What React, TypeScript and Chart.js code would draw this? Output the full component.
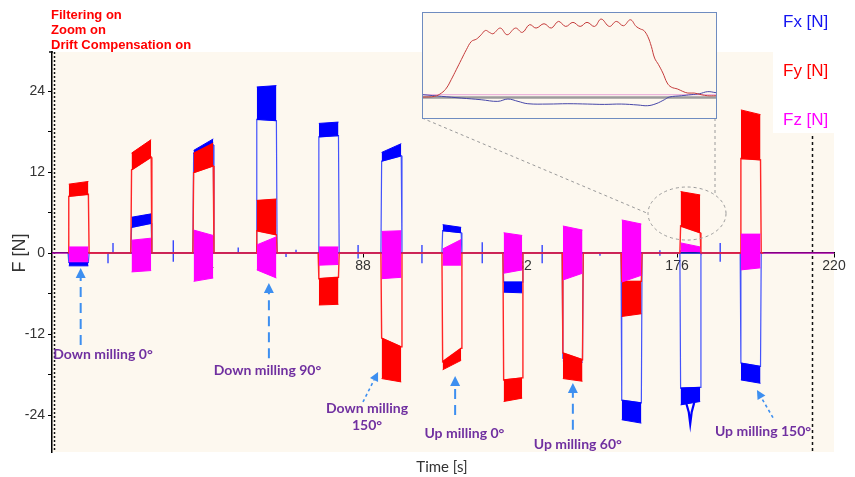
import React, { useEffect, useRef } from 'react';
import { Chart, registerables } from 'chart.js';
Chart.register(...registerables);

// ---------- data ----------
const seriesNames = ['Fx [N]', 'Fy [N]', 'Fz [N]'];
const xTickValues = [44, 88, 132, 176, 220];
const yTickValues = [-24, -18, -12, -6, 0, 6, 12, 18, 24];
const yLabelValues = [-24, -12, 0, 12, 24];

// milling passes (time, s)
const pulseStart = [5.3, 22.9, 40.3, 58.0, 75.4, 93.0, 110.1, 127.2, 143.8, 160.3, 176.8, 193.7];
const pulseEnd = [11.2, 28.8, 46.2, 63.9, 81.3, 98.9, 115.7, 132.8, 149.7, 166.2, 182.7, 199.6];

// Fx band (N): high/low edge of the noisy band at start/end of each pass
const fxHighStart = [-1.4, 5.3, 15.2, 24.6, 19.2, 14.9, 4.2, -4.3, -15.6, -21.8, -20.0, -16.3];
const fxHighEnd = [-1.4, 5.8, 16.9, 24.8, 19.4, 16.2, 3.8, -4.3, -15.8, -22.2, -19.9, -16.8];
const fxLowStart = [-1.9, 3.8, 14.8, 19.8, 17.2, 13.6, 3.3, -5.8, -16.0, -24.7, -22.5, -18.8];
const fxLowEnd = [-1.9, 4.4, 16.0, 19.6, 17.4, 14.4, 3.0, -5.9, -16.2, -25.2, -22.0, -19.3];

// Fy band (N)
const fyHighStart = [10.2, 14.8, 14.8, 7.8, -3.8, -12.6, -16.1, -18.8, -14.8, -4.2, 9.1, 21.2];
const fyHighEnd = [10.6, 16.8, 16.3, 8.0, -3.6, -13.9, -14.1, -18.5, -15.8, -4.2, 8.6, 20.5];
const fyLowStart = [8.4, 12.3, 11.9, 3.3, -7.7, -18.6, -17.3, -22.0, -18.6, -9.4, 4.0, 14.0];
const fyLowEnd = [8.7, 14.2, 12.9, 2.7, -7.6, -19.1, -15.9, -21.5, -19.0, -9.0, 3.0, 13.8];

// Fz band (N)
const fzHighStart = [0.9, 1.9, 3.4, 1.2, 0.9, 3.2, 0.6, 3.0, 4.0, 4.9, 1.5, 2.8];
const fzHighEnd = [0.9, 2.2, 2.6, 2.4, 0.9, 3.3, 2.0, 2.6, 3.4, 4.3, 0.9, 2.8];
const fzLowStart = [-1.3, -2.8, -4.2, -2.5, -1.8, -3.8, -1.8, -3.0, -4.0, -4.3, 0.3, -2.5];
const fzLowEnd = [-1.3, -2.6, -3.7, -3.7, -1.7, -3.6, -1.8, -2.5, -3.0, -3.3, 0.2, -2.2];

// Fx spikes between passes
const spikeTimes = [16.5, 17.9, 34.8, 53.0, 66.4, 69.2, 86.6, 104.5, 121.4, 138.2, 154.4, 171.2, 188.1];
const spikeUp = [0, 1.5, 1.9, 0.8, 0, 0.5, 1.2, 1.2, 1.6, 1.2, 0, 0.4, 1.5];
const spikeDown = [-1.5, 0, -1.3, 0, -0.6, 0, -0.8, -1.5, -1.5, -1.5, -0.4, -0.4, -1.3];

// Fx dip inside pass 11
const fxDipTimes = [178.6, 179.3, 179.7, 180.1, 180.8];
const fxDipValues = [-22.3, -23.6, -25.3, -23.6, -22.2];

// inset (zoom of pass 11)
const insetFyTimes = [176.30, 176.62, 176.81, 176.95, 177.08, 177.22, 177.36, 177.50, 177.64, 177.78, 177.91, 178.03, 178.14, 178.24, 178.44, 178.63, 178.86, 179.05, 179.25, 179.43, 179.65, 179.85, 180.05, 180.25, 180.45, 180.65, 180.84, 181.05, 181.23, 181.46, 181.65, 181.85, 182.04, 182.20, 182.32, 182.41, 182.52, 182.62, 182.71, 182.82, 182.94, 183.06, 183.17, 183.35, 183.49, 183.63, 183.81, 184.00, 184.18, 184.41];
const insetFyValues = [0.0, 0.08, 0.46, 1.04, 2.0, 3.15, 4.31, 5.46, 6.42, 6.69, 7.19, 7.69, 7.46, 7.31, 7.96, 7.19, 7.96, 7.46, 8.35, 7.96, 8.46, 7.96, 8.73, 8.15, 8.62, 8.15, 8.62, 8.15, 9.0, 8.15, 8.73, 8.23, 8.92, 8.15, 7.85, 7.69, 7.0, 5.85, 4.5, 3.73, 2.77, 1.62, 1.15, 0.92, 0.65, 0.46, 0.46, 0.27, 0.15, 0.15];
const insetFxTimes = [176.30, 176.81, 177.36, 177.91, 178.37, 178.65, 178.93, 179.20, 179.76, 180.31, 180.86, 181.32, 181.79, 182.25, 182.52, 182.75, 182.98, 183.12, 183.45, 183.72, 183.95, 184.18, 184.41];
const insetFxValues = [0.27, 0.08, -0.12, -0.31, -0.5, -0.23, -0.5, -0.77, -0.81, -0.77, -0.81, -0.85, -0.81, -0.92, -1.0, -0.77, -0.31, 0.0, 0.15, 0.27, 0.38, 0.62, 0.5];
const insetFzLevel = 0.27;
const insetZeroLevel = -0.05;

// annotations (data coordinates)
const noteText = ['Down milling 0°', 'Down milling 90°', 'Down milling|150°', 'Up milling 0°', 'Up milling 60°', 'Up milling 150°'];
const noteX = [15.1, 61.2, 89.1, 116.4, 148.2, 200.1];
const noteY = [-15.0, -17.33, -22.96, -26.67, -28.44, -26.5];
const arrowTailX = [8.84, 61.6, 87.97, 113.8, 146.8, 202.9];
const arrowTailY = [-13.63, -15.6, -22.07, -24.0, -26.2, -24.4];
const arrowTipX = [8.84, 61.6, 92.2, 113.8, 146.8, 198.4];
const arrowTipY = [-2.22, -4.44, -17.63, -18.22, -19.26, -20.3];
const arrowDotted = [false, false, true, false, false, true];

// zoom marker ellipse around pass 11
const zoomCenter = [178.8, 5.85];
const zoomRadius = [10.93, 3.93];
const rightDottedTime = 213.8;

// ---------- styling ----------
const X_MIN = 0.8;
const X_MAX = 220;
const Y_MIN = -29.48;
const Y_MAX = 29.78;
const CREAM = '#FDF8EF';
const BLUE = '#0000FF';
const RED = '#FF0000';
const MAGENTA = '#FF00FF';
const INSET = { left: 422, top: 12, width: 295, height: 107 };
const NOTE_FONT = 'bold 14px Lato, "DejaVu Sans Condensed", sans-serif';

type Pt = { x: number; y: number };
const DT = 0.2;

function inner(lo: number, hi: number) {
  return lo > 0 ? lo : hi < 0 ? hi : 0;
}

function outline(loS: number[], loE: number[], hiS: number[], hiE: number[], from: number | null, to: number | null): Pt[] {
  const pts: Pt[] = [];
  if (from !== null) pts.push({ x: from, y: 0 });
  pulseStart.forEach((t0, i) => {
    const t1 = pulseEnd[i];
    pts.push({ x: t0, y: 0 });
    pts.push({ x: t0 + DT, y: inner(loS[i], hiS[i]) });
    pts.push({ x: t1 - DT, y: inner(loE[i], hiE[i]) });
    pts.push({ x: t1, y: 0 });
  });
  if (to !== null) pts.push({ x: to, y: 0 });
  return pts;
}

function lineDs(data: Pt[], color: string, width: number, extra: any = {}) {
  return {
    data,
    borderColor: color,
    backgroundColor: color,
    borderWidth: width,
    pointRadius: 0,
    fill: false,
    tension: 0,
    ...extra,
  };
}

function addBands(list: any[], loS: number[], loE: number[], hiS: number[], hiE: number[], color: string) {
  pulseStart.forEach((t0, i) => {
    const a = t0 + DT;
    const b = pulseEnd[i] - DT;
    list.push(lineDs([{ x: a, y: hiS[i] }, { x: b, y: hiE[i] }], color, 1, { fill: '+1' }));
    list.push(lineDs([{ x: a, y: loS[i] }, { x: b, y: loE[i] }], color, 1));
  });
}

function buildDatasets() {
  const list: any[] = [];
  list.push(lineDs(outline(fzLowStart, fzLowEnd, fzHighStart, fzHighEnd, X_MIN, X_MAX), MAGENTA, 1.2));
  const last = pulseEnd[pulseEnd.length - 1] + 0.6;
  list.push(lineDs(outline(fxLowStart, fxLowEnd, fxHighStart, fxHighEnd, null, last), 'rgba(20,40,255,0.8)', 1.2));
  const spikes: Pt[] = [];
  spikeTimes.forEach((t, i) => {
    spikes.push({ x: t, y: 0 }, { x: t, y: spikeUp[i] }, { x: t, y: spikeDown[i] }, { x: t, y: 0 });
  });
  list.push(lineDs(spikes, 'rgba(20,40,255,0.85)', 1.4));
  list.push(lineDs(fxDipTimes.map((t, i) => ({ x: t, y: fxDipValues[i] })), BLUE, 2.2));
  addBands(list, fxLowStart, fxLowEnd, fxHighStart, fxHighEnd, BLUE);
  list.push(lineDs(outline(fyLowStart, fyLowEnd, fyHighStart, fyHighEnd, null, last), '#FF2626', 1.4));
  addBands(list, fyLowStart, fyLowEnd, fyHighStart, fyHighEnd, RED);
  addBands(list, fzLowStart, fzLowEnd, fzHighStart, fzHighEnd, MAGENTA);
  const n = list.length;
  list.forEach((d, i) => (d.order = n - i));
  return list;
}

function drawArrow(ctx: CanvasRenderingContext2D, x1: number, y1: number, x2: number, y2: number, dotted: boolean) {
  const ang = Math.atan2(y2 - y1, x2 - x1);
  const headLen = dotted ? 9 : 10;
  const headW = dotted ? 4.5 : 5;
  const bx = x2 - headLen * Math.cos(ang);
  const by = y2 - headLen * Math.sin(ang);
  ctx.save();
  ctx.strokeStyle = '#3d8ff0';
  ctx.fillStyle = '#3d8ff0';
  ctx.lineWidth = dotted ? 1.6 : 2;
  ctx.setLineDash(dotted ? [3, 3] : [10, 6]);
  ctx.beginPath();
  ctx.moveTo(x1, y1);
  ctx.lineTo(bx, by);
  ctx.stroke();
  ctx.setLineDash([]);
  ctx.beginPath();
  ctx.moveTo(x2, y2);
  ctx.lineTo(bx + headW * Math.sin(ang), by - headW * Math.cos(ang));
  ctx.lineTo(bx - headW * Math.sin(ang), by + headW * Math.cos(ang));
  ctx.closePath();
  ctx.fill();
  ctx.restore();
}

const decorPlugin = {
  id: 'decor',
  beforeDraw(chart: any) {
    const { ctx, chartArea: a } = chart;
    ctx.save();
    ctx.fillStyle = '#FFFFFF';
    ctx.fillRect(0, 0, chart.width, chart.height);
    ctx.fillStyle = CREAM;
    ctx.fillRect(a.left, a.top, a.right - a.left, a.bottom - a.top);
    ctx.restore();
  },
  beforeDatasetsDraw(chart: any) {
    const { ctx, chartArea: a, scales } = chart;
    ctx.save();
    ctx.strokeStyle = '#111';
    ctx.lineWidth = 1.5;
    ctx.setLineDash([2, 2]);
    ctx.beginPath();
    ctx.moveTo(a.left + 2.5, a.top);
    ctx.lineTo(a.left + 2.5, a.bottom);
    ctx.stroke();
    ctx.setLineDash([3, 3]);
    const rx = Math.round(scales.x.getPixelForValue(rightDottedTime)) + 0.5;
    ctx.beginPath();
    ctx.moveTo(rx, a.top);
    ctx.lineTo(rx, a.bottom);
    ctx.stroke();
    ctx.setLineDash([]);
    ctx.beginPath();
    ctx.moveTo(a.left - 3, a.top);
    ctx.lineTo(a.left + 1, a.top);
    ctx.stroke();
    ctx.restore();
  },
  afterDraw(chart: any) {
    const { ctx, chartArea: a, scales } = chart;
    const X = (t: number) => scales.x.getPixelForValue(t);
    const Y = (v: number) => scales.y.getPixelForValue(v);

    // zoom ellipse and connectors
    const cx = X(zoomCenter[0]);
    const cy = Y(zoomCenter[1]);
    const erx = Math.abs(X(zoomCenter[0] + zoomRadius[0]) - cx);
    const ery = Math.abs(Y(zoomCenter[1] + zoomRadius[1]) - cy);
    ctx.save();
    ctx.strokeStyle = '#9a9a9a';
    ctx.lineWidth = 1;
    ctx.setLineDash([3, 3]);
    ctx.beginPath();
    ctx.ellipse(cx, cy, erx, ery, 0, 0, Math.PI * 2);
    ctx.stroke();
    const bl = [INSET.left, INSET.top + INSET.height - 1];
    ctx.beginPath();
    ctx.moveTo(bl[0], bl[1]);
    ctx.lineTo(cx - erx, cy);
    ctx.stroke();
    const brx = INSET.left + INSET.width - 2;
    const dx = (brx - cx) / erx;
    const ey = cy - ery * Math.sqrt(Math.max(0, 1 - dx * dx));
    ctx.beginPath();
    ctx.moveTo(brx, INSET.top + INSET.height - 1);
    ctx.lineTo(brx, ey);
    ctx.stroke();
    ctx.restore();

    // arrows and labels
    noteText.forEach((txt, i) => {
      drawArrow(ctx, X(arrowTailX[i]), Y(arrowTailY[i]), X(arrowTipX[i]), Y(arrowTipY[i]), arrowDotted[i]);
      ctx.save();
      ctx.fillStyle = '#7030A0';
      ctx.font = NOTE_FONT;
      ctx.textAlign = 'center';
      ctx.textBaseline = 'middle';
      txt.split('|').forEach((line, k) => {
        ctx.fillText(line, X(noteX[i]), Y(noteY[i]) + k * 17);
      });
      ctx.restore();
    });

    // legend box
    ctx.save();
    ctx.fillStyle = '#FFFFFF';
    ctx.fillRect(773, 0, a.right - 773 + 1, 133);
    ctx.font = '17px "Liberation Sans", Arial, sans-serif';
    ctx.textAlign = 'left';
    ctx.textBaseline = 'middle';
    const legendColors = ['#1414F0', RED, MAGENTA];
    const legendY = [22, 71, 120];
    seriesNames.forEach((n, i) => {
      ctx.fillStyle = legendColors[i];
      ctx.fillText(n, 783, legendY[i]);
    });

    // status text
    ctx.fillStyle = '#FF0000';
    ctx.font = 'bold 13px "Liberation Sans", Arial, sans-serif';
    ['Filtering on', 'Zoom on', 'Drift Compensation on'].forEach((s, i) => {
      ctx.fillText(s, 51, 15 + i * 15);
    });

    // axis titles
    ctx.fillStyle = '#333';
    ctx.font = '15px Lato, "DejaVu Sans Condensed", sans-serif';
    ctx.textAlign = 'center';
    ctx.fillText('Time [s]', 442, 467);
    ctx.translate(20, 253);
    ctx.rotate(-Math.PI / 2);
    ctx.font = '18px "Liberation Sans", Arial, sans-serif';
    ctx.fillText('F [N]', 0, 0);
    ctx.restore();
  },
};

export default function App() {
  const mainRef = useRef<HTMLCanvasElement>(null);
  const insetRef = useRef<HTMLCanvasElement>(null);

  useEffect(() => {
    const main = new Chart(mainRef.current as HTMLCanvasElement, {
      type: 'line',
      data: { datasets: buildDatasets() },
      options: {
        responsive: false,
        animation: false,
        devicePixelRatio: 1,
        events: [],
        layout: { padding: { top: 52, right: 21, bottom: 25, left: 0 } },
        plugins: { legend: { display: false }, tooltip: { enabled: false } },
        scales: {
          x: {
            type: 'linear',
            min: X_MIN,
            max: X_MAX,
            position: { y: 0 } as any,
            afterBuildTicks: (s: any) => {
              s.ticks = xTickValues.map((v) => ({ value: v }));
            },
            ticks: {
              autoSkip: false,
              maxRotation: 0,
              padding: 1,
              color: '#333',
              font: { size: 14, family: '"Liberation Sans", Arial, sans-serif' },
            },
            grid: { drawOnChartArea: false, drawTicks: true, tickLength: 4, color: '#000' },
            border: { display: true, color: '#000', width: 1.5 },
          },
          y: {
            type: 'linear',
            min: Y_MIN,
            max: Y_MAX,
            afterFit: (s: any) => {
              s.width = 52;
            },
            afterBuildTicks: (s: any) => {
              s.ticks = yTickValues.map((v) => ({ value: v }));
            },
            ticks: {
              padding: 3,
              color: '#333',
              font: { size: 14, family: '"Liberation Sans", Arial, sans-serif' },
              callback: (v: any) => (yLabelValues.includes(Number(v)) ? String(v) : ''),
            },
            grid: { drawOnChartArea: false, drawTicks: true, tickLength: 4, color: '#000' },
            border: { display: true, color: '#000', width: 1.5 },
          },
        },
      },
      plugins: [decorPlugin],
    });

    const inset = new Chart(insetRef.current as HTMLCanvasElement, {
      type: 'line',
      data: {
        datasets: [
          lineDs([{ x: insetFxTimes[0], y: insetZeroLevel }, { x: insetFxTimes[insetFxTimes.length - 1], y: insetZeroLevel }], '#9c9c9c', 2.5, { order: 4 }),
          lineDs([{ x: insetFxTimes[0], y: insetFzLevel }, { x: insetFxTimes[insetFxTimes.length - 1], y: insetFzLevel }], '#e8a6d8', 1, { order: 3 }),
          lineDs(insetFxTimes.map((t, i) => ({ x: t, y: insetFxValues[i] })), '#4646a8', 1, { order: 2, tension: 0.4 }),
          lineDs(insetFyTimes.map((t, i) => ({ x: t, y: insetFyValues[i] })), '#c43a3a', 1, { order: 1, tension: 0.4 }),
        ],
      },
      options: {
        responsive: false,
        animation: false,
        devicePixelRatio: 1,
        events: [],
        layout: { padding: 0 },
        plugins: { legend: { display: false }, tooltip: { enabled: false } },
        scales: {
          x: { type: 'linear', display: false, min: 176.3, max: 184.41 },
          y: { type: 'linear', display: false, min: -2.42, max: 9.7 },
        },
      },
    });

    return () => {
      main.destroy();
      inset.destroy();
    };
  }, []);

  return (
    <div style={{ position: 'absolute', left: 0, top: 0, width: 855, height: 477, background: '#fff', overflow: 'hidden' }}>
      <canvas ref={mainRef} width={855} height={477} style={{ position: 'absolute', left: 0, top: 0, width: 855, height: 477 }} />
      <div
        style={{
          position: 'absolute',
          left: INSET.left,
          top: INSET.top,
          width: INSET.width,
          height: INSET.height,
          boxSizing: 'border-box',
          border: '1px solid #6f8cc0',
          background: CREAM,
        }}
      >
        <canvas ref={insetRef} width={INSET.width - 2} height={INSET.height - 2} style={{ display: 'block', width: INSET.width - 2, height: INSET.height - 2 }} />
      </div>
    </div>
  );
}
